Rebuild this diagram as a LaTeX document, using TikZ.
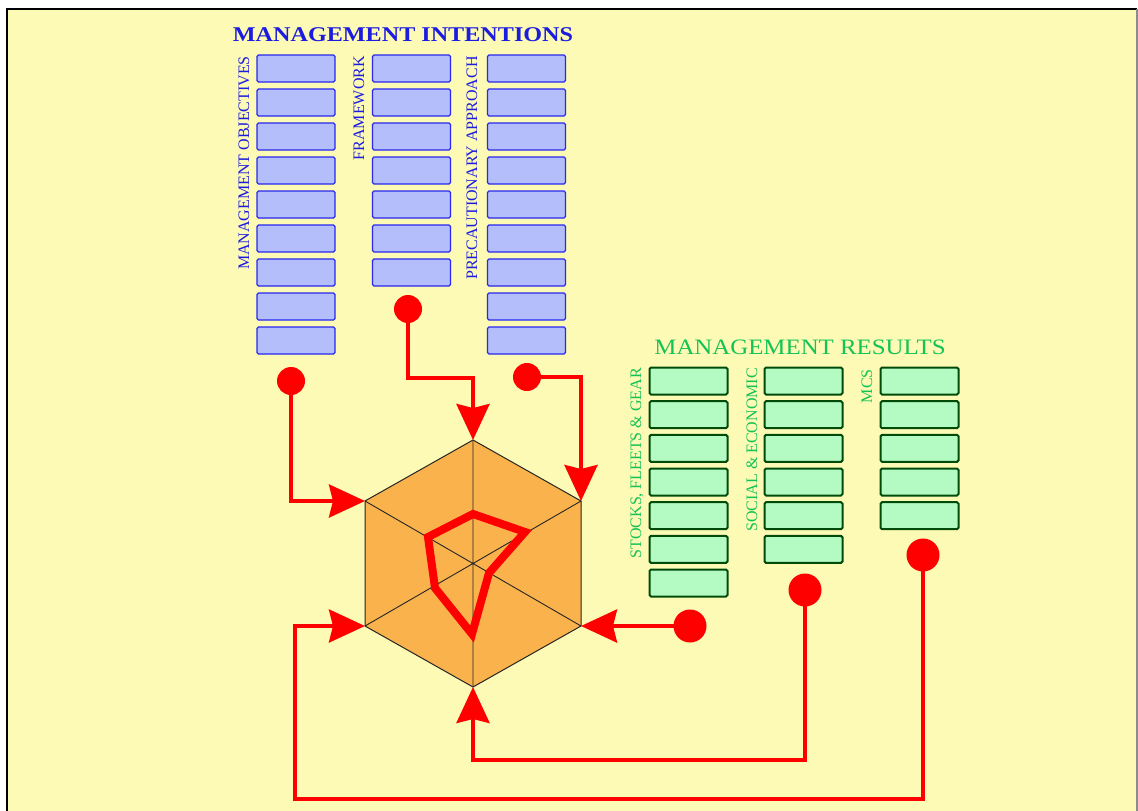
\documentclass[tikz,border=0pt]{standalone}
\usepackage{fontspec}
\setmainfont{Liberation Serif}
\usetikzlibrary{arrows.meta}
\definecolor{paper}{RGB}{252,250,180}
\definecolor{intentblue}{RGB}{28,28,225}
\definecolor{boxblue}{RGB}{40,40,240}
\definecolor{fillblue}{RGB}{180,190,250}
\definecolor{resultgreen}{RGB}{20,195,85}
\definecolor{boxgreen}{RGB}{0,75,10}
\definecolor{fillgreen}{RGB}{180,250,195}
\definecolor{hexfill}{RGB}{250,178,76}
\tikzset{
  mibox/.style={draw=boxblue, fill=fillblue, line width=1.3pt, rounded corners=1.5pt,
    minimum width=78pt, minimum height=27pt, inner sep=0pt},
  mrbox/.style={draw=boxgreen, fill=fillgreen, line width=2pt, rounded corners=1.5pt,
    minimum width=78pt, minimum height=27pt, inner sep=0pt},
  bluelabel/.style={rotate=90, anchor=base east, inner sep=0pt, text=intentblue,
    font=\fontsize{16}{16}\selectfont},
  greenlabel/.style={rotate=90, anchor=base east, inner sep=0pt, text=resultgreen,
    font=\fontsize{16}{16}\selectfont},
  conn/.style={draw=red, line width=4pt, -{Stealth[length=36pt,width=33pt,inset=4pt]}},
  dot/.style={circle, fill=red, inner sep=0pt, minimum size=28pt},
  bigdot/.style={circle, fill=red, inner sep=0pt, minimum size=33pt},
}
\begin{document}
\begin{tikzpicture}[x=1pt,y=-1pt]
\useasboundingbox (0,0) rectangle (1138,811);
% page and frame
\fill[white] (0,0) rectangle (1138,811);
\fill[paper] (7,9) rectangle (1137,811);
\draw[black, line width=2.5pt] (7,811) -- (7,9) -- (1137,9);
\draw[black!45, line width=1.5pt] (1137,9) -- (1137,811);

% titles
\node[text=intentblue, font=\fontsize{21}{21}\selectfont\bfseries] (tintent) at (403,35)
  {\scalebox{1.15}[1]{MANAGEMENT INTENTIONS}};
\node[text=resultgreen, font=\fontsize{22}{22}\selectfont] (tresult) at (800,347)
  {\scalebox{1.13}[1]{MANAGEMENT RESULTS}};

% intention columns
\foreach \i in {0,...,8} \node[mibox] (mo\i) at (296,{68.5+34*\i}) {};
\foreach \i in {0,...,6} \node[mibox] (fw\i) at (411.5,{68.5+34*\i}) {};
\foreach \i in {0,...,8} \node[mibox] (pa\i) at (526.5,{68.5+34*\i}) {};
\node[bluelabel] (lmo) at (249,56) {MANAGEMENT OBJECTIVES};
\node[bluelabel] (lfw) at (364,56) {FRAMEWORK};
\node[bluelabel] (lpa) at (477,56) {PRECAUTIONARY APPROACH};

% result columns
\foreach \i in {0,...,6} \node[mrbox] (sf\i) at (688.5,{381+33.67*\i}) {};
\foreach \i in {0,...,5} \node[mrbox] (se\i) at (803.5,{381+33.67*\i}) {};
\foreach \i in {0,...,4} \node[mrbox] (mc\i) at (919.5,{381+33.67*\i}) {};
\node[greenlabel] (lsf) at (641,368) {STOCKS, FLEETS \& GEAR};
\node[greenlabel] (lse) at (757,368) {SOCIAL \& ECONOMIC};
\node[greenlabel] (lmc) at (872,369) {MCS};

% hexagon corners
\coordinate (hc) at (473,563.5);
\coordinate (htop) at (473,440);
\coordinate (hur) at (581,501);
\coordinate (hlr) at (581,626);
\coordinate (hbot) at (473,687);
\coordinate (hll) at (365,626);
\coordinate (hul) at (365,501);

% bends of the connectors
\coordinate (bB) at (473,378);
\coordinate (bE) at (805,760);
\coordinate (bF1) at (923,799);
\coordinate (bF2) at (295,799);

% dots
\node[dot] (dA) at (291,381) {};
\node[dot] (dB) at (408,309) {};
\node[dot] (dC) at (527,377) {};
\node[bigdot] (dD) at (690,626) {};
\node[bigdot] (dE) at (805,590) {};
\node[bigdot] (dF) at (923,555) {};

% hexagon with spokes
\filldraw[fill=hexfill, draw=black!85, line width=1pt]
  (htop) -- (hur) -- (hlr) -- (hbot) -- (hll) -- (hul) -- cycle;
\draw[black!85, line width=0.9pt] (htop) -- (hbot) (hur) -- (hll) (hul) -- (hlr);

% profile inside the hexagon
\draw[red, line width=8pt, line join=miter]
  (473,514) -- (525,532) -- (489,573) -- (472,634) -- (435,588) -- (428,537) -- cycle;

% connectors
\draw[conn] (dA.center) |- (hul);
\draw[conn] (dB.center) |- (bB) -- (htop);
\draw[conn] (dC.center) -| (hur);
\draw[conn] (dD.center) -- (hlr);
\draw[conn] (dE.center) -- (bE) -| (hbot);
\draw[conn] (dF.center) -- (bF1) -- (bF2) |- (hll);
\end{tikzpicture}
\end{document}
